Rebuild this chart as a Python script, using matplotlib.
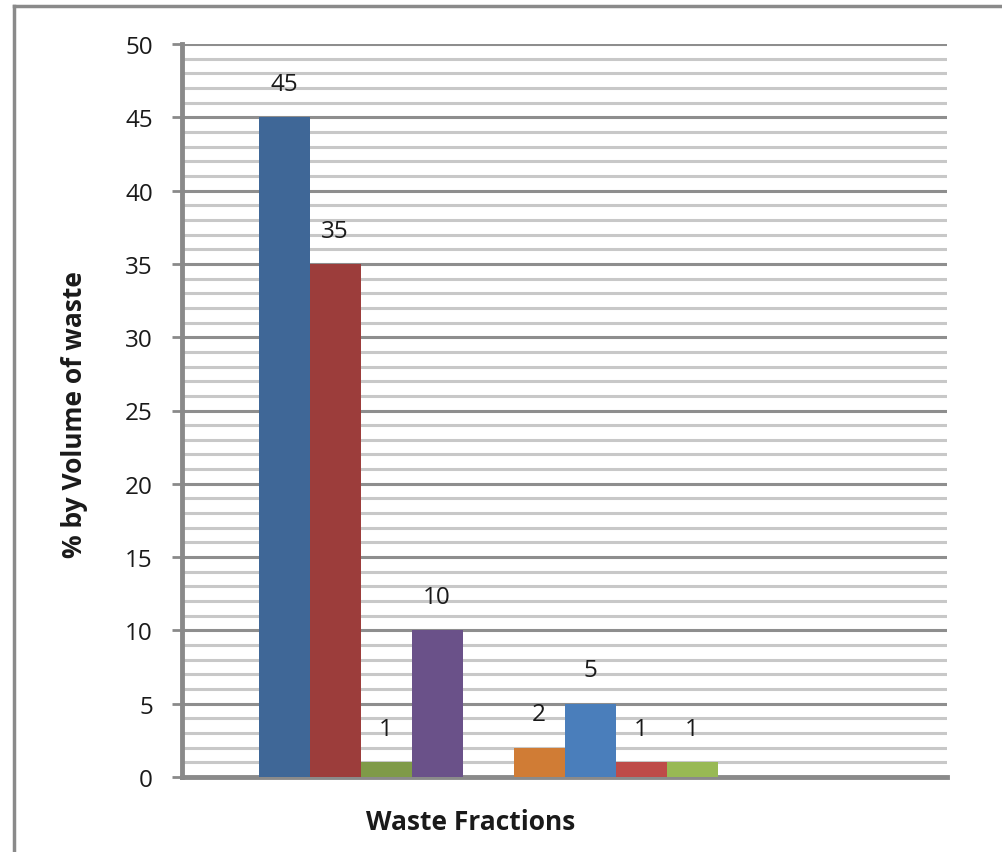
import matplotlib
matplotlib.use("Agg")
import matplotlib.pyplot as plt
from matplotlib.ticker import MultipleLocator
from matplotlib.lines import Line2D

values = [45, 35, 1, 10, 0, 2, 5, 1, 1, 0, 0, 0]
colors = ["#3F6797", "#9C3D3B", "#7F9A48", "#6A5189", "#36899F", "#D07C35",
          "#4A7EBB", "#BE4B48", "#98B954", "#7D60A0", "#46AAC5", "#F79646"]
yticks = [0, 5, 10, 15, 20, 25, 30, 35, 40, 45, 50]
xlabel = "Waste Fractions"
ylabel = "% by Volume of waste"

plt.rcParams['font.family'] = ['Open Sans', 'DejaVu Sans']

W, H = 1002, 853
fig = plt.figure(figsize=(W / 100, H / 100), dpi=100)
ax = fig.add_axes([182 / W, 1 - 778 / H, (947 - 182) / W, (778 - 45) / H])

ax.set_ylim(0, 50)
ax.set_xlim(-2.0, 13.0)
ax.yaxis.set_major_locator(MultipleLocator(5))
ax.yaxis.set_minor_locator(MultipleLocator(1))
ax.set_yticks(yticks)
ax.grid(which='major', axis='y', color='#8E8E8E', linewidth=2.2, zorder=0)
ax.grid(which='minor', axis='y', color='#C8C8C8', linewidth=2.2, zorder=0)
ax.set_axisbelow(True)

xs = list(range(len(values)))
ax.bar(xs, values, width=1.0, color=colors, zorder=3)
for x, v in zip(xs, values):
    if v > 0:
        ax.annotate(str(v), (x, v), xytext=(0, 24), textcoords='offset points',
                    ha='center', va='center', fontsize=17.5, color='#1a1a1a')

for s in ['top', 'right']:
    ax.spines[s].set_visible(False)
for s in ['left', 'bottom']:
    ax.spines[s].set_color('#8A8A8A')
    ax.spines[s].set_linewidth(3.5)

ax.tick_params(axis='y', which='major', length=7, width=2, color='#8A8A8A',
               labelsize=17.5, labelcolor='#1a1a1a', pad=14)
ax.tick_params(axis='y', which='minor', length=0)
ax.tick_params(axis='x', which='both', length=0, labelbottom=False)

fig.text(471 / W, 1 - 823 / H, xlabel, ha='center', va='center',
         fontsize=19, fontweight='bold', color='#1a1a1a')
fig.text(75 / W, 1 - 415 / H, ylabel, ha='center', va='center', rotation=90,
         fontsize=19, fontweight='bold', color='#1a1a1a')

# outer frame (top and left edges visible)
fig.add_artist(Line2D([14 / W, 1.0], [1 - 7 / H, 1 - 7 / H], transform=fig.transFigure,
                      color='#8A8A8A', linewidth=2.5))
fig.add_artist(Line2D([14 / W, 14 / W], [0.0, 1 - 7 / H], transform=fig.transFigure,
                      color='#8A8A8A', linewidth=2.5))

fig.savefig("out.png", dpi=100)
